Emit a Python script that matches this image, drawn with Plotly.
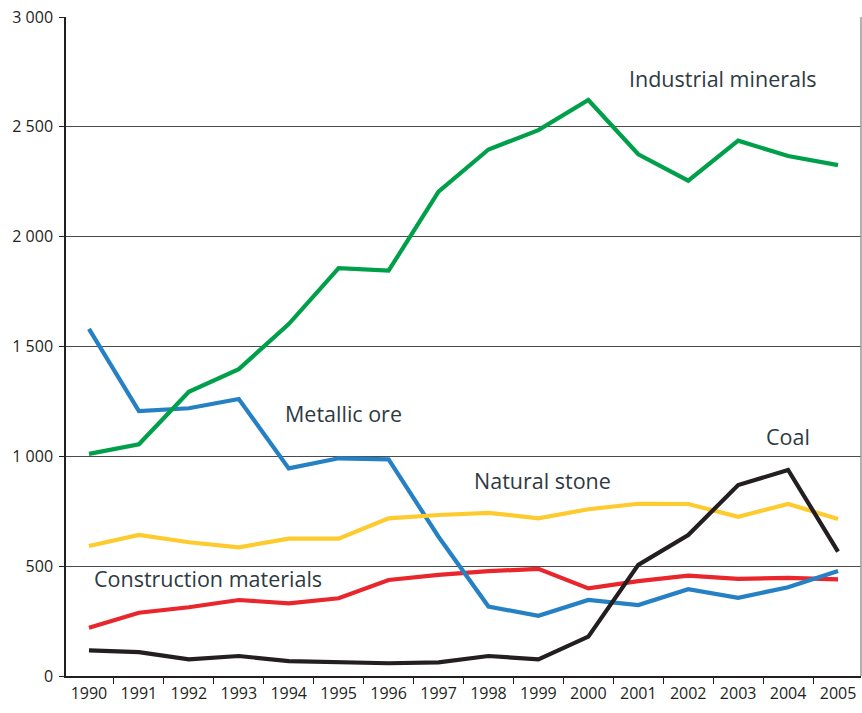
import plotly.graph_objects as go

years = list(range(1990, 2006))

industrial_minerals = [1011, 1055, 1294, 1397, 1602, 1857, 1845, 2205, 2397, 2485, 2622, 2375, 2255, 2437, 2367, 2326]
metallic_ore = [1580, 1206, 1219, 1261, 945, 991, 986, 634, 316, 274, 346, 323, 395, 356, 404, 478]
natural_stone = [592, 642, 609, 586, 625, 625, 718, 733, 743, 718, 759, 784, 783, 725, 783, 715]
construction_materials = [220, 288, 313, 346, 331, 354, 437, 460, 477, 488, 399, 432, 457, 442, 447, 440]
coal = [117, 109, 76, 91, 68, 61, 58, 62, 91, 76, 179, 506, 642, 869, 938, 566]

series = [
    ("Construction materials", construction_materials, "#e8262b"),
    ("Metallic ore", metallic_ore, "#2581c4"),
    ("Natural stone", natural_stone, "#fecb2f"),
    ("Coal", coal, "#231f20"),
    ("Industrial minerals", industrial_minerals, "#00a04b"),
]

# label text, anchor year, anchor value
labels = [
    ("Industrial minerals", 2000.78, 2722),
    ("Metallic ore", 1993.88, 1197),
    ("Natural stone", 1997.68, 892),
    ("Coal", 2003.52, 1092),
    ("Construction materials", 1990.06, 442),
]

yticks = [0, 500, 1000, 1500, 2000, 2500, 3000]

fig = go.Figure()
for name, vals, color in series:
    fig.add_trace(go.Scatter(x=years, y=vals, mode="lines", name=name,
                             line=dict(color=color, width=4.2), showlegend=False))

for text, x, y in labels:
    fig.add_annotation(x=x, y=y, text=text, showarrow=False, xanchor="left", yanchor="middle",
                       font=dict(family="Open Sans", size=21.5, color="#2e3a3f"))

fig.add_shape(type="line", xref="paper", yref="paper", x0=1, x1=1, y0=0, y1=1,
              line=dict(color="#999999", width=1.5))

fig.update_layout(
    width=862, height=713,
    margin=dict(l=66, r=1, t=17, b=37),
    paper_bgcolor="white", plot_bgcolor="white",
    separators=". ",
    font=dict(family="Open Sans", size=16, color="#231f20"),
    xaxis=dict(range=[1989.54, 2005.46], tickmode="array", tickvals=years,
               ticktext=[str(y) for y in years], ticks="", showgrid=False,
               showline=True, linecolor="#231f20", linewidth=1.5,
               tickfont=dict(size=16), ticklabelstandoff=2,
               minor=dict(tickmode="array", tickvals=[y - 0.5 for y in years] + [2005.5],
                          ticks="outside", ticklen=6, tickcolor="#231f20", tickwidth=1.2,
                          showgrid=False),
               zeroline=False),
    yaxis=dict(range=[0, 3000], tickmode="array", tickvals=yticks,
               tickformat=",d", ticks="outside", ticklen=5, tickcolor="#231f20",
               showgrid=True, gridcolor="#4a4a4a", gridwidth=1,
               showline=True, linecolor="#231f20", linewidth=1.5,
               tickfont=dict(size=16), ticklabelstandoff=3, zeroline=False),
)

fig.write_html("out.html", config={"displayModeBar": False},
               post_script="document.body.style.margin='0';document.body.style.padding='0';")
